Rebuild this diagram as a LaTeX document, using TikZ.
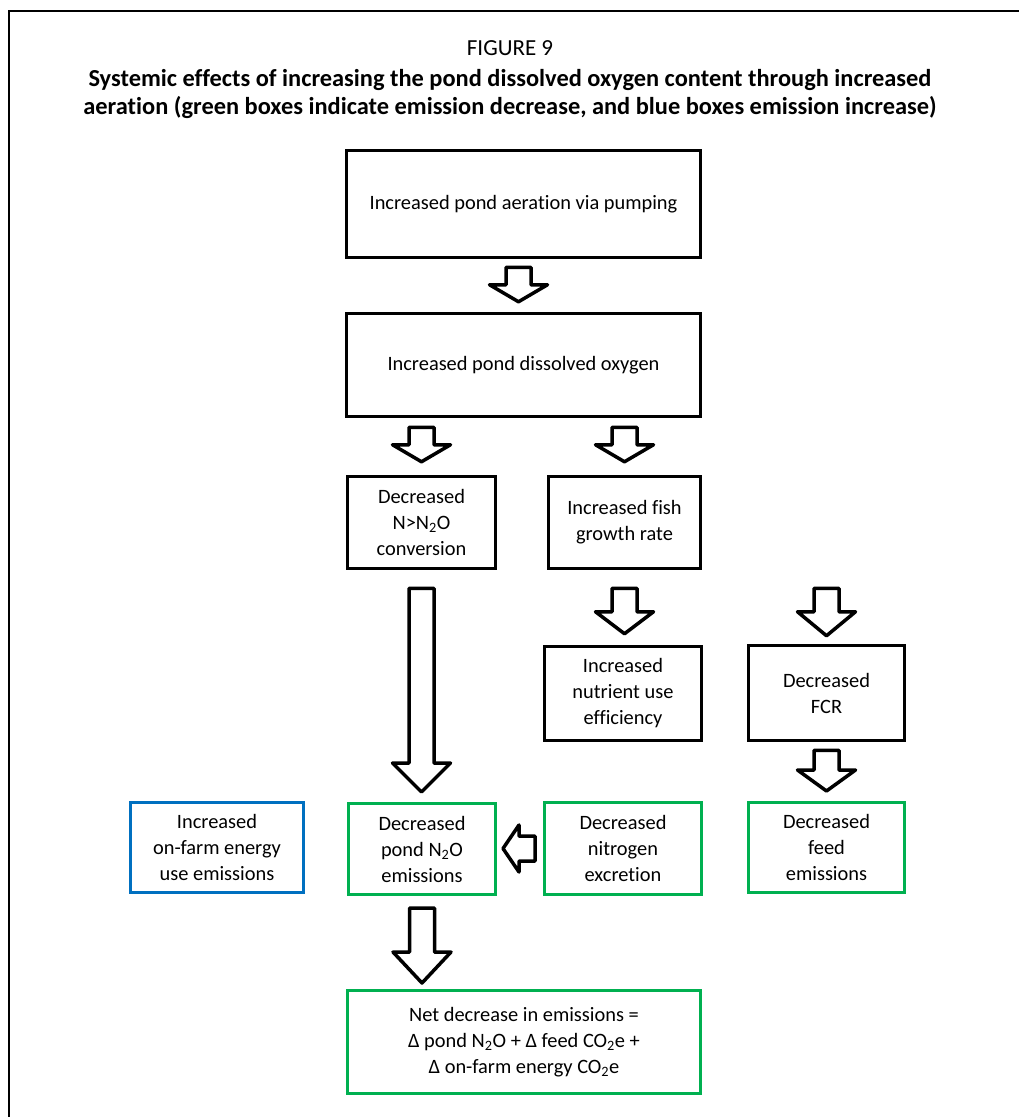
\documentclass[tikz,border=0pt]{standalone}
\usepackage{fontspec}
\setmainfont{Carlito}[Ligatures=NoCommon]
\usepackage{xcolor}
\usetikzlibrary{positioning,calc}

\definecolor{boxgreen}{HTML}{00B050}
\definecolor{boxblue}{HTML}{0070C0}

% block arrow pointing down, from #1 to #2, head length #3
\newcommand{\fatdown}[3]{%
  \draw[fat] let \p1=(#1), \p2=(#2) in
    (\x1-12.5pt,\y1) -- (\x1+12.5pt,\y1) -- (\x1+12.5pt,\y2+#3pt)
    -- (\x1+29pt,\y2+#3pt) -- (\x1,\y2) -- (\x1-29pt,\y2+#3pt)
    -- (\x1-12.5pt,\y2+#3pt) -- cycle;}
% block arrow pointing left
\newcommand{\fatleft}[3]{%
  \draw[fat] let \p1=(#1), \p2=(#2) in
    (\x1,\y1-12.5pt) -- (\x1,\y1+12.5pt) -- (\x2+#3pt,\y1+12.5pt)
    -- (\x2+#3pt,\y1+23.5pt) -- (\x2,\y1) -- (\x2+#3pt,\y1-23.5pt)
    -- (\x2+#3pt,\y1-12.5pt) -- cycle;}

\begin{document}
\begin{tikzpicture}[x=1pt, y=-1pt,
    every node/.style={font=\fontsize{20.4}{26}\selectfont},
    effect/.style={draw, line width=3.5pt, align=center, inner sep=0pt, fill=white},
    greenbox/.style={effect, draw=boxgreen, line width=3pt},
    bluebox/.style={effect, draw=boxblue, line width=3pt},
    fat/.style={draw, fill=white, line width=3.5pt, line join=round}]

    \useasboundingbox (0,0) rectangle (1019,1117);
    \draw[line width=1.5pt] (9,1117) -- (9,11) -- (1019,11);

    % title
    \node[font=\fontsize{23}{27}\selectfont] (fig) at (510,48) {FIGURE 9};
    \node[font=\bfseries\fontsize{24.4}{27.5}\selectfont, align=center] (title) at (510,94)
        {Systemic effects of increasing the pond dissolved oxygen content through increased\\
         aeration (green boxes indicate emission decrease, and blue boxes emission increase)};

    % boxes
    \node[effect, minimum width=354, minimum height=107] (aer) at (523.5,204) {Increased pond aeration via pumping};
    \node[effect, minimum width=354, minimum height=103] (oxy) at (523.5,365) {Increased pond dissolved oxygen};
    \node[effect, minimum width=148, minimum height=92] (conv) at (421.5,522.5) {Decreased\\N>N\textsubscript{2}O\\conversion};
    \node[effect, minimum width=152, minimum height=92] (fish) at (624.5,522.5) {Increased fish\\growth rate};
    \node[effect, minimum width=157, minimum height=94] (nutr) at (623,693.5) {Increased\\nutrient use\\efficiency};
    \node[effect, minimum width=156, minimum height=95] (fcr) at (826.5,693) {Decreased\\FCR};

    \node[bluebox, minimum width=173, minimum height=90] (energy) at (217,847.5) {Increased\\on-farm energy\\use emissions};
    \node[greenbox, minimum width=147, minimum height=91] (pond) at (422,849) {Decreased\\pond N\textsubscript{2}O\\emissions};
    \node[greenbox, minimum width=157, minimum height=92] (nitro) at (623,848.5) {Decreased\\nitrogen\\excretion};
    \node[greenbox, minimum width=156, minimum height=90] (feed) at (826.5,847.5) {Decreased\\feed\\emissions};
    \node[greenbox, minimum width=353, minimum height=103] (net) at (524,1042)
        {Net decrease in emissions =\\Δ pond N\textsubscript{2}O + Δ feed CO\textsubscript{2}e +\\Δ on-farm energy CO\textsubscript{2}e};

    \coordinate (fcrtop) at (fish.south -| fcr.north);

    % arrows
    \fatdown{[xshift=-5pt,yshift=-8pt]aer.south}{[xshift=-5pt,yshift=10pt]oxy.north}{17}
    \fatdown{[yshift=-9pt]oxy.south -| conv.north}{[yshift=13pt]conv.north}{17}
    \fatdown{[yshift=-9pt]oxy.south -| fish.north}{[yshift=13pt]fish.north}{17}
    \fatdown{[yshift=-18pt]conv.south}{[yshift=10pt]pond.north}{29}
    \fatdown{[yshift=-18pt]fish.south}{[yshift=11pt]nutr.north}{22}
    \fatdown{[yshift=-18pt]fcrtop}{[yshift=8pt]fcr.north}{24}
    \fatdown{[yshift=-8pt]fcr.south}{[yshift=10pt]feed.north}{21}
    \fatleft{[xshift=-8pt]nitro.west}{[xshift=6pt]pond.east}{16}
    \fatdown{[yshift=-12pt]pond.south}{[yshift=6pt]pond.south |- net.north}{31}
\end{tikzpicture}
\end{document}
